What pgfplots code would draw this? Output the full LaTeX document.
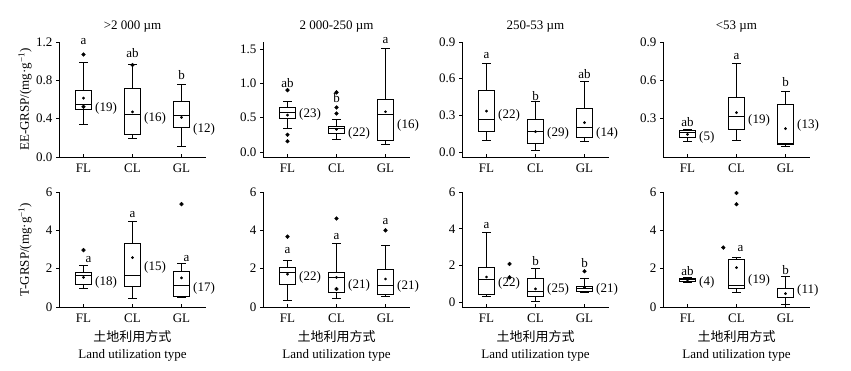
\documentclass[border=0pt]{standalone}
\usepackage{fontspec}
\setmainfont{Liberation Serif}
\newfontfamily\cjk{Noto Sans CJK SC}
\usepackage{pgfplots}
\pgfplotsset{compat=1.18}
\usepgfplotslibrary{statistics}

\pgfplotsset{
  panel/.style={
    scale only axis, width=147pt, height=115pt, anchor=south west,
    xmin=-0.5, xmax=2.5, xtick={0,1,2}, xticklabels={FL,CL,GL},
    axis lines*=left, axis line style={-, line width=0.7pt},
    tick align=outside, major tick length=3pt,
    tick style={black, line width=0.7pt},
    xtick style={yshift=3pt},
    clip=false,
    font=\fontsize{13}{17}\selectfont,
    /pgf/number format/assume math mode=true,
    every axis title shift=0pt,
    every axis title/.style={at={(axis description cs:0.5,1)}, anchor=base, yshift=12.7pt, inner sep=0pt},
    every axis y label/.style={at={(axis description cs:-0.231,0.5)}, rotate=90, anchor=center},
    every axis x label/.style={at={(axis description cs:0.5,0)}, anchor=north, yshift=-23.6pt, align=center, inner sep=0pt},
  },
  dec/.style={yticklabel style={/pgf/number format/.cd, fixed, fixed zerofill, precision=1}},
  bst/.style={black, line width=0.7pt, solid},
  out/.style={only marks, mark=*, mark size=1.9pt, black},
  avg/.style={only marks, mark=*, mark size=1.2pt, black},
}
\newcommand{\bp}[6]{\addplot[bst, boxplot prepared={draw direction=y, draw position=#1, lower whisker=#2, lower quartile=#3, median=#4, upper quartile=#5, upper whisker=#6, box extend=0.33, whisker extend=0.18}] coordinates {};}
\newcommand{\cnt}[3]{\node[anchor=west, inner sep=0pt, xshift=11.5pt] at (axis cs:#1,#2) {#3};}
\newcommand{\sig}[3]{\node[inner sep=0pt] at (axis cs:#1,#2) {#3};}

\begin{document}
\begin{tikzpicture}
\path[use as bounding box] (0,0) rectangle (851pt,371pt);

% ---------- Row 1: EE-GRSP ----------
\begin{axis}[panel, dec, at={(59pt,214pt)}, ymin=0, ymax=1.2, ytick={0,0.4,0.8,1.2},
  title={>2 000 µm}, ylabel={EE-GRSP/(mg·g\textsuperscript{−1})}]
\bp{0}{0.343}{0.50}{0.548}{0.70}{0.99}
\bp{1}{0.194}{0.236}{0.447}{0.72}{0.964}
\bp{2}{0.108}{0.305}{0.437}{0.583}{0.76}
\addplot[out] coordinates {(0,1.07) (0,0.524) (1,0.96)};
\addplot[avg] coordinates {(0,0.614) (1,0.47) (2,0.413)};
\sig{0}{1.2}{a}\sig{1}{1.08}{ab}\sig{2}{0.853}{b}
\cnt{0}{0.51}{(19)}\cnt{1}{0.40}{(16)}\cnt{2}{0.29}{(12)}
\end{axis}

\begin{axis}[panel, dec, at={(263pt,214pt)}, ymin=-0.073, ymax=1.6, ytick={0,0.5,1,1.5},
  title={2 000-250 µm}]
\bp{0}{0.35}{0.49}{0.57}{0.648}{0.74}
\bp{1}{0.18}{0.278}{0.34}{0.375}{0.47}
\bp{2}{0.112}{0.166}{0.55}{0.765}{1.51}
\addplot[out] coordinates {(0,0.90) (0,0.25) (0,0.156) (1,0.867) (1,0.648) (1,0.56)};
\addplot[avg] coordinates {(0,0.536) (1,0.33) (2,0.585)};
\sig{0}{1.0}{ab}\sig{1}{0.79}{b}\sig{2}{1.62}{a}
\cnt{0}{0.545}{(23)}\cnt{1}{0.27}{(22)}\cnt{2}{0.385}{(16)}
\end{axis}

\begin{axis}[panel, dec, at={(462pt,214pt)}, ymin=-0.041, ymax=0.9, ytick={0,0.3,0.6,0.9},
  title={250-53 µm}]
\bp{0}{0.095}{0.169}{0.265}{0.507}{0.723}
\bp{1}{0.011}{0.068}{0.166}{0.265}{0.415}
\bp{2}{0.085}{0.117}{0.199}{0.357}{0.575}
\addplot[avg] coordinates {(0,0.335) (1,0.166) (2,0.24)};
\sig{0}{0.79}{a}\sig{1}{0.46}{b}\sig{2}{0.635}{ab}
\cnt{0}{0.30}{(22)}\cnt{1}{0.15}{(29)}\cnt{2}{0.15}{(14)}
\end{axis}

\begin{axis}[panel, dec, at={(663pt,214pt)}, ymin=0, ymax=0.9, ytick={0.3,0.6,0.9},
  title={<53 µm}]
\bp{0}{0.125}{0.151}{0.19}{0.209}{0.219}
\bp{1}{0.13}{0.214}{0.318}{0.464}{0.73}
\bp{2}{0.083}{0.099}{0.104}{0.415}{0.517}
\addplot[avg] coordinates {(0,0.177) (1,0.347) (2,0.222)};
\sig{0}{0.27}{ab}\sig{1}{0.79}{a}\sig{2}{0.587}{b}
\cnt{0}{0.157}{(5)}\cnt{1}{0.29}{(19)}\cnt{2}{0.245}{(13)}
\end{axis}

% ---------- Row 2: T-GRSP ----------
\begin{axis}[panel, at={(59pt,64pt)}, ymin=0, ymax=6, ytick={0,2,4,6},
  ylabel={T-GRSP/(mg·g\textsuperscript{−1})},
  xlabel={{\cjk 土地利用方式}\\Land utilization type}]
\bp{0}{0.98}{1.19}{1.66}{1.80}{2.16}
\bp{1}{0.44}{1.06}{1.66}{3.31}{4.47}
\bp{2}{0.52}{0.56}{1.12}{1.85}{2.27}
\addplot[out] coordinates {(0,2.97) (2,5.37)};
\addplot[avg] coordinates {(0,1.55) (1,2.58) (2,1.52)};
\sig{0.1}{2.48}{a}\sig{1}{4.83}{a}\sig{2.1}{2.55}{a}
\cnt{0}{1.29}{(18)}\cnt{1}{2.09}{(15)}\cnt{2}{0.99}{(17)}
\end{axis}

\begin{axis}[panel, at={(263pt,64pt)}, ymin=0, ymax=6, ytick={0,2,4,6},
  xlabel={{\cjk 土地利用方式}\\Land utilization type}]
\bp{0}{0.35}{1.18}{1.80}{2.06}{2.42}
\bp{1}{0.44}{0.74}{1.54}{1.82}{3.30}
\bp{2}{0.53}{0.65}{1.13}{1.98}{3.23}
\addplot[out] coordinates {(0,3.67) (1,4.62) (1,0.94) (2,4.0)};
\addplot[avg] coordinates {(0,1.71) (1,1.54) (2,1.46)};
\sig{0}{2.93}{a}\sig{1}{3.7}{a}\sig{2}{4.48}{a}
\cnt{0}{1.55}{(22)}\cnt{1}{1.15}{(21)}\cnt{2}{1.06}{(21)}
\end{axis}

\begin{axis}[panel, at={(462pt,64pt)}, ymin=-0.25, ymax=6, ytick={0,2,4,6},
  xlabel={{\cjk 土地利用方式}\\Land utilization type}]
\bp{0}{0.31}{0.45}{1.27}{1.89}{3.82}
\bp{1}{0.07}{0.33}{0.58}{1.31}{1.85}
\bp{2}{0.55}{0.60}{0.76}{0.89}{1.33}
\addplot[out] coordinates {(0.47,2.09) (0.47,1.36) (2,1.69)};
\addplot[avg] coordinates {(0,1.38) (1,0.73) (2,0.82)};
\sig{0}{4.2}{a}\sig{1}{2.24}{b}\sig{2}{2.15}{b}
\cnt{0}{1.05}{(22)}\cnt{1}{0.73}{(25)}\cnt{2}{0.73}{(21)}
\end{axis}

\begin{axis}[panel, at={(663pt,64pt)}, ymin=0, ymax=6, ytick={0,2,4,6},
  xlabel={{\cjk 土地利用方式}\\Land utilization type}]
\bp{0}{1.29}{1.32}{1.43}{1.51}{1.55}
\bp{1}{0.75}{0.96}{1.13}{2.49}{2.61}
\bp{2}{0.12}{0.49}{0.50}{0.96}{1.62}
\addplot[out] coordinates {(1,5.95) (1,5.36) (0.73,3.1)};
\addplot[avg] coordinates {(0,1.41) (1,2.05) (2,0.70)};
\sig{0}{1.88}{ab}\sig{1.08}{3.04}{a}\sig{2}{1.91}{b}
\cnt{0}{1.29}{(4)}\cnt{1}{1.39}{(19)}\cnt{2}{0.87}{(11)}
\end{axis}
\end{tikzpicture}
\end{document}
